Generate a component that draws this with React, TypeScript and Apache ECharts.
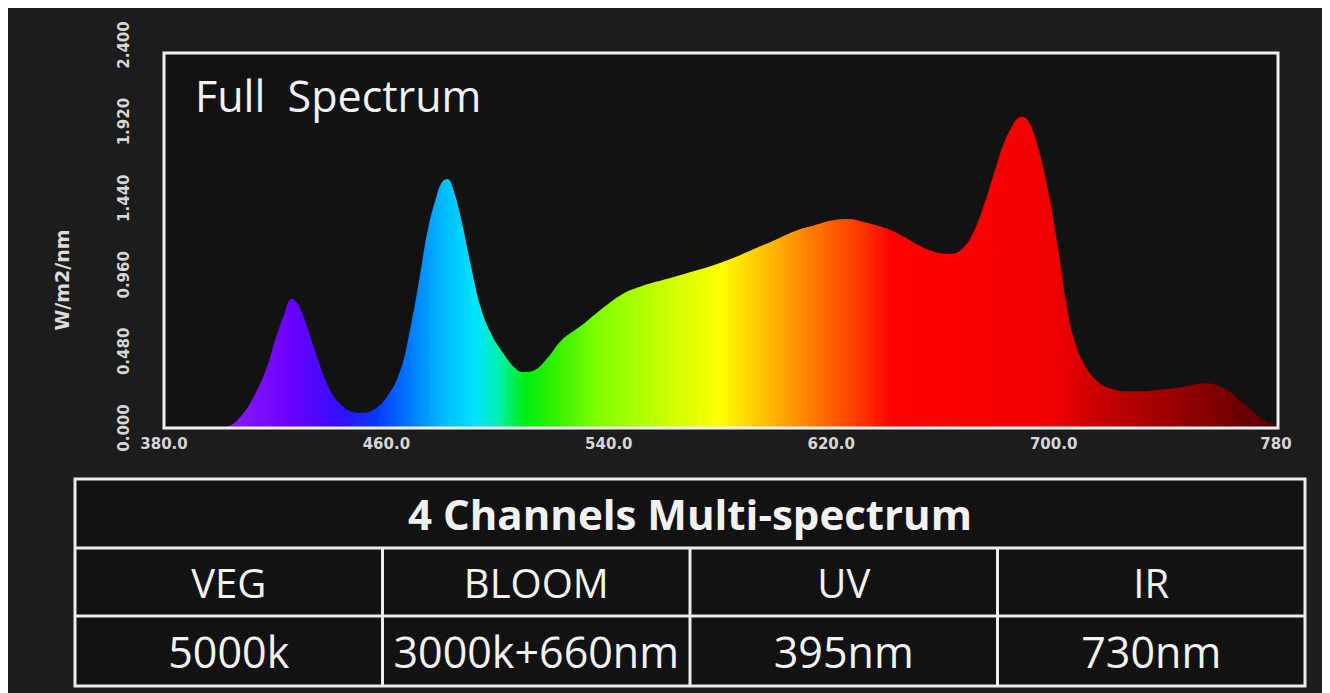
import React, { useEffect, useRef } from "react";
import * as echarts from "echarts";

// ---- data ----
const wavelengths = [
  380, 390, 398, 403, 408, 413, 417, 420, 423, 426, 428, 431, 434, 437, 440, 444, 448, 451, 455, 460,
  465, 469, 472, 475, 478, 480, 482, 484, 487, 490, 494, 498, 502, 506, 509, 513, 518, 523, 530, 537,
  545, 552, 560, 568, 576, 584, 592, 600, 608, 614, 620, 626, 632, 640, 646, 652, 658, 663, 667, 671,
  675, 679, 682, 685, 687, 689, 691, 693, 696, 699, 702, 705, 708, 712, 716, 720, 726, 732, 738, 744,
  750, 755, 760, 764, 768, 772, 776, 780,
];
const irradiance = [
  0, 0, 0, 0.01, 0.08, 0.22, 0.38, 0.55, 0.7, 0.81, 0.78, 0.66, 0.5, 0.35, 0.23, 0.14, 0.1, 0.095, 0.11, 0.19,
  0.36, 0.66, 0.95, 1.25, 1.45, 1.54, 1.56, 1.5, 1.3, 1.05, 0.75, 0.58, 0.47, 0.38, 0.35, 0.36, 0.44, 0.55, 0.64, 0.74,
  0.84, 0.89, 0.93, 0.97, 1.01, 1.06, 1.12, 1.18, 1.24, 1.27, 1.3, 1.31, 1.29, 1.25, 1.2, 1.14, 1.1, 1.09, 1.12, 1.22,
  1.4, 1.62, 1.78, 1.89, 1.94, 1.95, 1.92, 1.84, 1.65, 1.4, 1.08, 0.74, 0.52, 0.37, 0.29, 0.25, 0.23, 0.23, 0.24, 0.25,
  0.27, 0.28, 0.26, 0.22, 0.16, 0.1, 0.05, 0.02,
];
const xTickLabels = ["380.0", "460.0", "540.0", "620.0", "700.0", "780"];
const yTickLabels = ["0.000", "0.480", "0.960", "1.440", "1.920", "2.400"];
const chartTitle = "Full  Spectrum";
const yAxisName = "W/m2/nm";
const tableTitle = "4 Channels Multi-spectrum";
const channelNames = ["VEG", "BLOOM", "UV", "IR"];
const channelValues = ["5000k", "3000k+660nm", "395nm", "730nm"];

// spectrum colour stops (wavelength -> colour)
const colourNm = [380, 404, 426, 444, 456, 468, 480, 492, 500, 510, 520, 536, 560, 580, 592, 604, 620, 632, 642, 700, 720, 752, 780];
const colourHex = [
  "#a020f0", "#8a1af5", "#6a00ff", "#3010ff", "#0838ff", "#0078ff", "#00b8ff", "#00e4ff", "#00f0b0", "#00ee10",
  "#30f000", "#80ff00", "#c8ff00", "#ffff00", "#ffd000", "#ffa000", "#ff6000", "#ff3000", "#ff0000", "#f00000",
  "#c00000", "#8b0000", "#500000",
];

export default function App() {
  const ref = useRef<HTMLDivElement>(null);
  useEffect(() => {
    if (!ref.current) return;
    const chart = echarts.init(ref.current, null, { renderer: "svg" });
    const gridLeft = 156, gridTop = 37, gridRight = 46, gridBottom = 265;

    const stops = colourNm.map((nm, i) => ({ offset: (nm - 380) / 400, color: colourHex[i] }));

    // table layout
    const tL = 67, tR = 1297, tT = 471, r1 = 540, r2 = 608, tB = 678;
    const colW = (tR - tL) / 4;
    const lineStyle = { stroke: "#ececec", lineWidth: 3 };
    const tableEls: any[] = [
      { type: "rect", shape: { x: tL, y: tT, width: tR - tL, height: tB - tT }, style: { fill: "#121212", stroke: "#ececec", lineWidth: 3 }, z: 1 },
      { type: "line", shape: { x1: tL, y1: r1, x2: tR, y2: r1 }, style: lineStyle, z: 2 },
      { type: "line", shape: { x1: tL, y1: r2, x2: tR, y2: r2 }, style: lineStyle, z: 2 },
    ];
    for (let i = 1; i < 4; i++) {
      const x = tL + colW * i;
      tableEls.push({ type: "line", shape: { x1: x, y1: r1, x2: x, y2: tB }, style: lineStyle, z: 2 });
    }
    tableEls.push({
      type: "text", x: (tL + tR) / 2, y: (tT + r1) / 2, z: 3,
      style: { text: tableTitle, fill: "#f2f2f2", font: "bold 42px 'Open Sans'", textAlign: "center", textVerticalAlign: "middle" },
    });
    channelNames.forEach((n, i) => {
      tableEls.push({
        type: "text", x: tL + colW * (i + 0.5), y: (r1 + r2) / 2, z: 3,
        style: { text: n, fill: "#f2f2f2", font: "40px 'Open Sans'", textAlign: "center", textVerticalAlign: "middle" },
      });
    });
    channelValues.forEach((n, i) => {
      tableEls.push({
        type: "text", x: tL + colW * (i + 0.5), y: (r2 + tB) / 2, z: 3,
        style: { text: n, fill: "#f2f2f2", font: "43px 'Open Sans'", textAlign: "center", textVerticalAlign: "middle" },
      });
    });

    chart.setOption({
      animation: false,
      backgroundColor: "#1c1c1c",
      grid: { left: gridLeft, top: gridTop, right: gridRight, bottom: gridBottom, containLabel: false },
      xAxis: {
        type: "value", min: 380, max: 780, interval: 80,
        axisLine: { show: false }, axisTick: { show: false }, splitLine: { show: false },
        axisLabel: {
          color: "#d6d6d6", fontSize: 15, fontWeight: "bold", fontFamily: "DejaVu Sans", margin: 8,
          showMinLabel: true, showMaxLabel: true,
          formatter: (v: number) => xTickLabels[Math.round((v - 380) / 80)] ?? "",
        },
      },
      yAxis: {
        type: "value", min: 0, max: 2.4, interval: 0.48,
        axisLine: { show: false }, axisTick: { show: false }, splitLine: { show: false },
        axisLabel: {
          color: "#d6d6d6", fontSize: 15, fontWeight: "bold", fontFamily: "DejaVu Sans", rotate: 90, margin: 33,
          showMinLabel: true, showMaxLabel: true,
          formatter: (v: number) => yTickLabels[Math.round(v / 0.48)] ?? "",
        },
      },
      series: [
        {
          type: "line",
          data: wavelengths.map((w, i) => [w, irradiance[i]]),
          smooth: 0.4,
          showSymbol: false,
          lineStyle: { width: 0 },
          areaStyle: { opacity: 1, color: new echarts.graphic.LinearGradient(0, 0, 1, 0, stops) },
          z: 5,
        },
      ],
      graphic: [
        { type: "rect", shape: { x: 156, y: 45, width: 1114, height: 375 }, style: { fill: "#121212" }, z: -10, silent: true },
        { type: "rect", shape: { x: 156, y: 45, width: 1114, height: 375 }, style: { fill: "none", stroke: "#f0f0f0", lineWidth: 3 }, z: 100, silent: true },
        {
          type: "text", x: 187, y: 87, z: 101,
          style: { text: chartTitle, fill: "#f2f2f2", font: "43px 'Open Sans'", textAlign: "left", textVerticalAlign: "middle" },
        },
        {
          type: "text", x: 54, y: 272, rotation: Math.PI / 2, z: 101,
          style: { text: yAxisName, fill: "#dcdcdc", font: "bold 19px 'DejaVu Sans'", textAlign: "center", textVerticalAlign: "middle" },
        },
        ...tableEls,
      ],
    });
    return () => chart.dispose();
  }, []);
  return <div ref={ref} style={{ width: 1314, height: 685 }} />;
}
